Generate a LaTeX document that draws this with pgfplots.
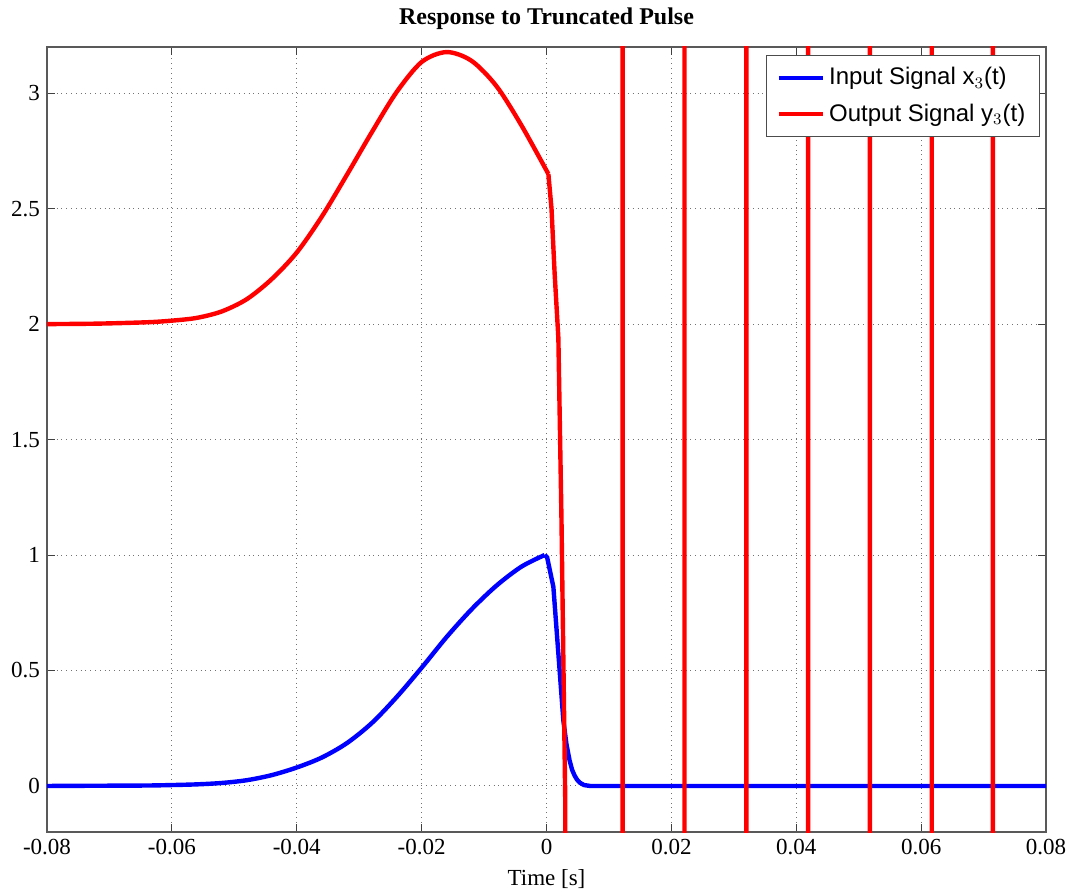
\documentclass[border=0pt]{standalone}
\usepackage{fontspec}
\setmainfont{Liberation Serif}
\newfontfamily\arialfont{Liberation Sans}
\usepackage{pgfplots}
\pgfplotsset{compat=1.18}
\begin{document}
\begin{tikzpicture}
\begin{axis}[
  name=ax,
  scale only axis,
  width=499.4pt, height=392.5pt,
  xmin=-0.08, xmax=0.08, ymin=-0.2, ymax=3.2,
  scaled ticks=false,
  xtick={-0.08,-0.06,-0.04,-0.02,0,0.02,0.04,0.06,0.08},
  xticklabels={-0.08,-0.06,-0.04,-0.02,0,0.02,0.04,0.06,0.08},
  ytick={0,0.5,1,1.5,2,2.5,3},
  yticklabels={0,0.5,1,1.5,2,2.5,3},
  tick label style={font=\fontsize{11.5}{13}\selectfont},
  tick align=inside,
  major tick length=4pt,
  tick style={black!75, line width=0.5pt},
  axis line style={black!65, line width=0.8pt},
  grid=major,
  major grid style={black!55, dotted, line width=0.5pt},
  title={\bfseries Response to Truncated Pulse},
  title style={font=\fontsize{12}{14}\selectfont, yshift=-1pt},
  xlabel={Time [s]},
  xlabel style={font=\fontsize{11.5}{13}\selectfont, yshift=-0.5pt},
  legend cell align=left,
  legend style={at={(1,1)}, anchor=north east, xshift=-3pt, yshift=-4pt,
    draw=black!70, fill=white, line width=0.6pt,
    font=\arialfont\fontsize{12}{14}\selectfont,
    inner xsep=5pt, inner ysep=4pt, row sep=4pt},
  legend image code/.code={\draw[#1, line width=2.2pt] (0pt,0pt) -- (22pt,0pt);},
]
\addplot[blue, line width=2.2pt, smooth, tension=0.5] coordinates {
(-0.08,0) (-0.072,0.001) (-0.064,0.002) (-0.060,0.004) (-0.056,0.007)
(-0.052,0.013) (-0.048,0.025) (-0.044,0.047) (-0.040,0.080) (-0.036,0.123)
(-0.032,0.185) (-0.028,0.272) (-0.024,0.385) (-0.020,0.512) (-0.016,0.645)
(-0.012,0.765) (-0.008,0.868) (-0.004,0.950) (-0.0003,1.0)
};
\addlegendentry{Input Signal x$_3$(t)}
\addplot[red, line width=2.2pt, smooth, tension=0.5] coordinates {
(-0.08,2.000) (-0.072,2.002) (-0.064,2.008) (-0.060,2.015) (-0.056,2.027)
(-0.052,2.055) (-0.048,2.108) (-0.044,2.195) (-0.040,2.310) (-0.036,2.465)
(-0.032,2.645) (-0.028,2.830) (-0.024,3.005) (-0.020,3.135) (-0.016,3.178)
(-0.012,3.140) (-0.008,3.030) (-0.004,2.860) (0.0003,2.65)
};
\addlegendentry{Output Signal y$_3$(t)}
\addplot[blue, line width=2.2pt, forget plot] coordinates {
(-0.0003,1.0) (0.0001,0.99) (0.0011,0.862) (0.0019,0.573)
(0.0027,0.283) (0.0032,0.18) (0.0037,0.11) (0.0041,0.07) (0.0045,0.045)
(0.0049,0.027) (0.0053,0.015) (0.0060,0.004) (0.007,0) (0.08,0)
};
\addplot[red, line width=2.2pt, forget plot] coordinates {
(0.0003,2.65) (0.0008,2.50) (0.0013,2.22) (0.0019,1.94) (0.0024,1.15)
(0.0030,-0.06) (0.00305,-6)
(0.0122,-6) (0.0122,9)
(0.0221,9) (0.0221,-6)
(0.0320,-6) (0.0320,9)
(0.0419,9) (0.0419,-6)
(0.0518,-6) (0.0518,9)
(0.0617,9) (0.0617,-6)
(0.0715,-6) (0.0715,9)
(0.08,9)
};
\end{axis}
\pgfresetboundingbox
\useasboundingbox ([shift={(-23.5pt,-31pt)}]ax.south west) rectangle ([shift={(11.5pt,23.5pt)}]ax.north east);
\end{tikzpicture}
\end{document}
